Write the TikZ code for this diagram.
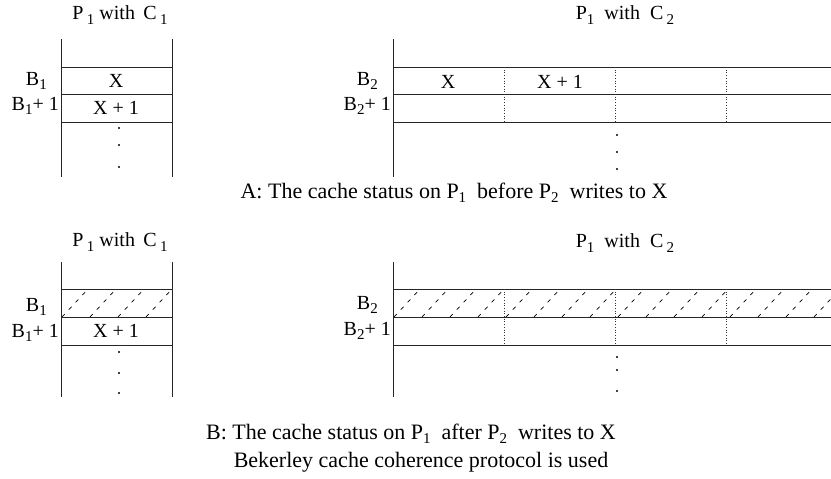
\documentclass[tikz,border=0pt]{standalone}
\usepackage{fontspec}
\setmainfont{Liberation Serif}
\newcommand\sbs[1]{\raisebox{-4.5pt}{\fontsize{15}{15}\selectfont #1}}
\begin{document}
\begin{tikzpicture}[x=1pt,y=-1pt,
  frame/.style={line width=0.8pt,black!85},
  dotv/.style={line width=0.7pt,dotted,black!80},
  hatch/.style={line width=0.7pt,dash pattern=on 4pt off 6pt},
  lbl/.style={inner sep=0pt,font=\fontsize{20}{24}\selectfont},
  captxt/.style={inner sep=0pt,font=\fontsize{22}{26}\selectfont},
  dotn/.style={circle,fill=black,inner sep=0pt,minimum size=2.4pt}]
\useasboundingbox (0,0) rectangle (831,479);

% ===== Part A =====
\node[lbl] (ta1) at (120,15) {P\,\sbs{1} with\, C\,\sbs{1}};
\node[lbl] (ta2) at (625,15) {P\sbs{1}\ \ with\ \ C\,\sbs{2}};
% left cache
\draw[frame] (61,39) -- (61,177) (172,39) -- (172,177);
\draw[frame] (61,67) -- (172,67) (61,94) -- (172,94) (61,122) -- (172,122);
\node[lbl] (xa) at (116,81) {X};
\node[lbl] (xa1) at (116,108) {X + 1};
\node[lbl,anchor=east] (ba1) at (47,81) {B\sbs{1}};
\node[lbl,anchor=east] (ba11) at (59,106) {B\sbs{1}+ 1};
\node[dotn] (da1) at (119,128) {};
\node[dotn] (da2) at (119,145) {};
\node[dotn] (da3) at (119,167) {};
% right cache
\draw[frame] (393,39) -- (393,177);
\draw[frame] (393,67) -- (831,67) (393,94) -- (831,94) (393,122) -- (831,122);
\foreach \xx in {504,615,726} \draw[dotv] (\xx,67) -- (\xx,122);
\node[lbl] (xb) at (448,82) {X};
\node[lbl] (xb1) at (560,82) {X + 1};
\node[lbl,anchor=east] (bb1) at (378,81) {B\sbs{2}};
\node[lbl,anchor=east] (bb11) at (391,106) {B\sbs{2}+ 1};
\node[dotn] (db1) at (617,135) {};
\node[dotn] (db2) at (617,152) {};
\node[dotn] (db3) at (617,169) {};
\node[captxt] (capa) at (454,193) {A: The cache status on P\sbs{1}\ \ before P\sbs{2}\ \ writes to X};

% ===== Part B =====
\node[lbl] (tb1) at (120,242) {P\,\sbs{1} with\, C\,\sbs{1}};
\node[lbl] (tb2) at (625,243) {P\sbs{1}\ \ with\ \ C\,\sbs{2}};
% hatching
\begin{scope}
\clip (61,289) rectangle (172,317);
\foreach \xx in {34,62,...,200} \draw[hatch] (\xx,317) -- ++(26,-28);
\end{scope}
\begin{scope}
\clip (393,289) rectangle (831,317);
\foreach \xx in {366,394,...,860} \draw[hatch] (\xx,317) -- ++(26,-28);
\end{scope}
% left cache
\draw[frame] (61,262) -- (61,397) (172,262) -- (172,397);
\draw[frame] (61,289) -- (172,289) (61,317) -- (172,317) (61,345) -- (172,345);
\node[lbl] (xc1) at (116,331) {X + 1};
\node[lbl,anchor=east] (bc1) at (47,307) {B\sbs{1}};
\node[lbl,anchor=east] (bc11) at (59,333) {B\sbs{1}+ 1};
\node[dotn] (dc1) at (119,352) {};
\node[dotn] (dc2) at (119,373) {};
\node[dotn] (dc3) at (119,393) {};
% right cache
\draw[frame] (393,262) -- (393,397);
\draw[frame] (393,289) -- (831,289) (393,317) -- (831,317) (393,345) -- (831,345);
\foreach \xx in {504,615,726} \draw[dotv] (\xx,289) -- (\xx,345);
\node[lbl,anchor=east] (bd1) at (378,305) {B\sbs{2}};
\node[lbl,anchor=east] (bd11) at (391,331) {B\sbs{2}+ 1};
\node[dotn] (dd1) at (617,357) {};
\node[dotn] (dd2) at (617,370) {};
\node[dotn] (dd3) at (617,391) {};
\node[captxt] (capb1) at (411,434) {B: The cache status on P\sbs{1}\ \ after P\sbs{2}\ \ writes to X};
\node[captxt] (capb2) at (421,462) {Bekerley cache coherence protocol is used};
\end{tikzpicture}
\end{document}
